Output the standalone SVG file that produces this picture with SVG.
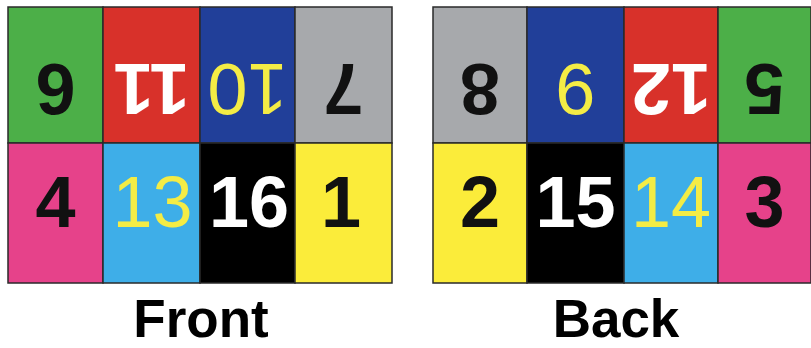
<svg xmlns="http://www.w3.org/2000/svg" width="811" height="348" viewBox="0 0 811 348">
<style>
.c{stroke:#2a2a2a;stroke-width:1.5}
.n{font-family:"Liberation Sans",Arial,sans-serif;font-size:72px;font-weight:bold;text-anchor:middle}
.y{font-weight:normal;fill:#f4ec45}
.k{fill:#111}
.w{fill:#fff}
.lbl{font-family:"Liberation Sans",Arial,sans-serif;font-size:53px;font-weight:bold;text-anchor:middle;fill:#000}
</style>
<rect width="811" height="348" fill="#fff"/>
<g id="front">
<g id="f-6"><rect class="c" x="8" y="7" width="95" height="136" fill="#4caf48"/><text class="n k" x="55.5" y="116" transform="rotate(180 55.5 90)">6</text></g>
<g id="f-11"><rect class="c" x="103" y="7" width="97" height="136" fill="#d8312a"/><text class="n w" x="151.5" y="116" transform="rotate(180 151.5 90)">11</text></g>
<g id="f-10"><rect class="c" x="200" y="7" width="95" height="136" fill="#213f99"/><text class="n y" x="247.5" y="116" transform="rotate(180 247.5 90)">10</text></g>
<g id="f-7"><rect class="c" x="295" y="7" width="97" height="136" fill="#a7a9ac"/><text class="n k" x="343.5" y="116" transform="rotate(180 343.5 90)">7</text></g>
<g id="f-4"><rect class="c" x="8" y="143" width="95" height="140" fill="#e6428a"/><text class="n k" x="55.5" y="227">4</text></g>
<g id="f-13"><rect class="c" x="103" y="143" width="97" height="140" fill="#3eaee8"/><text class="n y" x="152.5" y="227">13</text></g>
<g id="f-16"><rect class="c" x="200" y="143" width="95" height="140" fill="#000"/><text class="n w" x="249" y="227">16</text></g>
<g id="f-1"><rect class="c" x="295" y="143" width="97" height="140" fill="#fbec3a"/><text class="n k" x="341" y="227">1</text></g>
<text id="front-label" class="lbl" x="201" y="337">Front</text>
</g>
<g id="back">
<g id="b-8"><rect class="c" x="433" y="7" width="94" height="136" fill="#a7a9ac"/><text class="n k" x="480" y="116" transform="rotate(180 480 90)">8</text></g>
<g id="b-9"><rect class="c" x="527" y="7" width="97" height="136" fill="#213f99"/><text class="n y" x="575.5" y="116" transform="rotate(180 575.5 90)">9</text></g>
<g id="b-12"><rect class="c" x="624" y="7" width="94" height="136" fill="#d8312a"/><text class="n w" x="671" y="116" transform="rotate(180 671 90)">12</text></g>
<g id="b-5"><rect class="c" x="718" y="7" width="93" height="136" fill="#4caf48"/><text class="n k" x="764.5" y="116" transform="rotate(180 764.5 90)">5</text></g>
<g id="b-2"><rect class="c" x="433" y="143" width="94" height="140" fill="#fbec3a"/><text class="n k" x="480" y="227">2</text></g>
<g id="b-15"><rect class="c" x="527" y="143" width="97" height="140" fill="#000"/><text class="n w" x="575.5" y="227">15</text></g>
<g id="b-14"><rect class="c" x="624" y="143" width="94" height="140" fill="#3eaee8"/><text class="n y" x="671" y="227">14</text></g>
<g id="b-3"><rect class="c" x="718" y="143" width="93" height="140" fill="#e6428a"/><text class="n k" x="764.5" y="227">3</text></g>
<text id="back-label" class="lbl" x="616" y="337">Back</text>
</g>
<g id="connectors"/>
</svg>
